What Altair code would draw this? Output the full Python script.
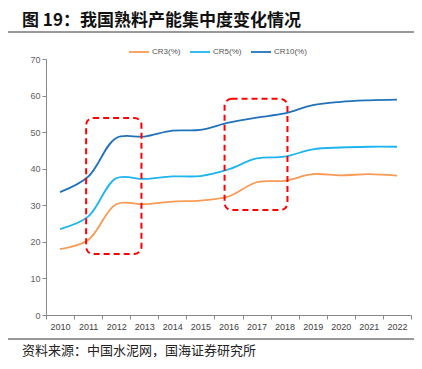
import altair as alt
import pandas as pd

years = list(range(2010, 2023))
cr3 = [18.0, 20.5, 30.3, 30.3, 31.0, 31.3, 32.4, 36.3, 36.7, 38.5, 38.2, 38.5, 38.1]
cr5 = [23.5, 26.9, 37.4, 37.2, 37.9, 38.0, 39.8, 42.8, 43.3, 45.3, 45.8, 46.0, 46.0]
cr10 = [33.6, 37.8, 48.4, 48.8, 50.4, 50.6, 52.6, 54.0, 55.1, 57.4, 58.3, 58.7, 58.9]
series_names = ["CR3(%)", "CR5(%)", "CR10(%)"]
series_colors = ["#F79A55", "#1CB5EE", "#2272B9"]

box_x1 = [2010.93, 2015.86]
box_x2 = [2012.9, 2018.1]
box_y1 = [16.7, 28.7]
box_y2 = [53.9, 59.1]

title_text = "图 19：我国熟料产能集中度变化情况"
source_text = "资料来源：中国水泥网，国海证券研究所"

rows = []
for name, vals in zip(series_names, [cr3, cr5, cr10]):
    for y, v in zip(years, vals):
        rows.append({"year": y, "value": v, "series": name})
df = pd.DataFrame(rows)
boxes = pd.DataFrame({"x1": box_x1, "x2": box_x2, "y1": box_y1, "y2": box_y2})

W, H = 365, 256
FONT = "Noto Sans CJK SC"

xscale = alt.Scale(domain=[2009.5, 2022.5], nice=False, zero=False)
yscale = alt.Scale(domain=[0, 70], nice=False)

tick_vals = [y - 0.5 for y in years] + [2022.5]

x_axis = alt.Axis(values=tick_vals, title=None, grid=False,
                  labelExpr="datum.value > 2022 ? '' : toString(datum.value + 0.5)",
                  labelOffset=14, labelFontSize=9, labelColor="#404040",
                  labelOverlap=False, labelFlush=False, labelBound=False,
                  domainColor="#888888", tickColor="#888888", tickSize=4,
                  labelPadding=3, labelFont="Liberation Sans")
y_axis = alt.Axis(values=list(range(0, 71, 10)), title=None, grid=False,
                  labelOverlap=False, labelFlush=False, labelBound=False,
                  labelFontSize=9, labelColor="#606060", domainColor="#888888",
                  tickColor="#888888", tickSize=4, labelFont="Liberation Sans")

lines = alt.Chart(df).mark_line(interpolate="catmull-rom", strokeWidth=1.8).encode(
    x=alt.X("year:Q", scale=xscale, axis=x_axis),
    y=alt.Y("value:Q", scale=yscale, axis=y_axis),
    color=alt.Color("series:N", scale=alt.Scale(domain=series_names, range=series_colors),
                    legend=alt.Legend(orient="none", legendX=82, legendY=-18, direction="horizontal",
                                      title=None, symbolType="stroke", symbolSize=400,
                                      symbolStrokeWidth=1.8, labelFontSize=8,
                                      labelColor="#555555", columnPadding=5,
                                      labelOffset=2, labelFont="Liberation Sans")),
    order=alt.Order("year:Q"),
)

rects = alt.Chart(boxes).mark_rect(fill=None, stroke="#FF0000", strokeWidth=2,
                                   strokeDash=[6, 4], cornerRadius=7).encode(
    x=alt.X("x1:Q", scale=xscale, axis=x_axis), x2="x2",
    y=alt.Y("y1:Q", scale=yscale, axis=y_axis), y2="y2"
)

rule_top = alt.Chart(pd.DataFrame({"a": [0]})).mark_rule(color="#333333", strokeWidth=1).encode(
    x=alt.value(-38), x2=alt.value(369), y=alt.value(-27)
)
rule_bot = alt.Chart(pd.DataFrame({"a": [0]})).mark_rule(color="#333333", strokeWidth=1).encode(
    x=alt.value(-38), x2=alt.value(369), y=alt.value(24 + 256)
)
src = alt.Chart(pd.DataFrame({"a": [0]})).mark_text(
    align="left", baseline="middle", fontSize=13, font=FONT, color="#222222"
).encode(x=alt.value(-24), y=alt.value(36 + 256), text=alt.value(source_text))

title = alt.Chart(pd.DataFrame({"a": [0]})).mark_text(
    align="left", baseline="alphabetic", fontSize=17, font=FONT, fontWeight="bold", color="#111111"
).encode(x=alt.value(-24), y=alt.value(-33), text=alt.value(title_text))

chart = alt.layer(lines, rects, rule_top, rule_bot, src, title).properties(
    width=W, height=H,
    padding={"left": 38, "top": 51, "right": 3, "bottom": 46},
    autosize=alt.AutoSizeParams(type="none"),
).configure_view(stroke=None)

chart.save("out.html", embed_options={"renderer": "svg", "actions": False})
